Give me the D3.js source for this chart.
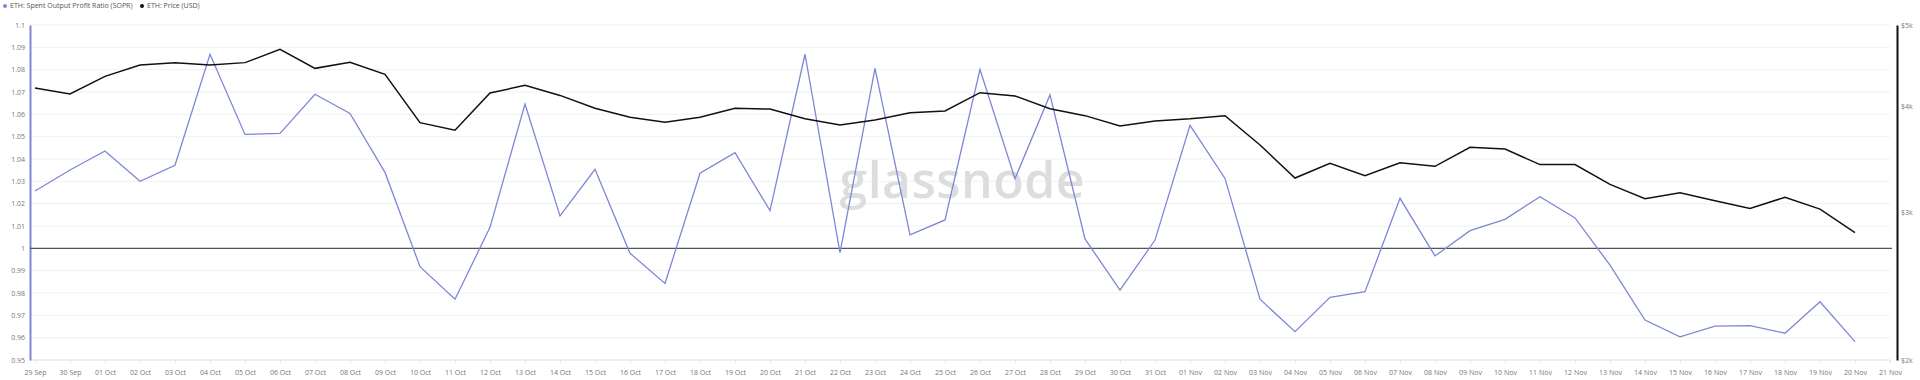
<!DOCTYPE html>
<meta charset="utf-8">
<html lang="en">
    <head>
        <script src="https://d3js.org/d3.v7.min.js"></script>
        <title>ETH SOPR vs Price</title>
        <style>
            body { margin: 0; background: #fff; }
            text { font-family: "Open Sans", "Noto Sans", sans-serif; }
        </style>
    </head>
    <body>
        <div id="my_graph"></div>
    </body>
</html>
<script>
// daily dates, 29 Sep -> 20 Nov
const dates = ["2025-09-29","2025-09-30","2025-10-01","2025-10-02","2025-10-03","2025-10-04","2025-10-05",
    "2025-10-06","2025-10-07","2025-10-08","2025-10-09","2025-10-10","2025-10-11","2025-10-12","2025-10-13",
    "2025-10-14","2025-10-15","2025-10-16","2025-10-17","2025-10-18","2025-10-19","2025-10-20","2025-10-21",
    "2025-10-22","2025-10-23","2025-10-24","2025-10-25","2025-10-26","2025-10-27","2025-10-28","2025-10-29",
    "2025-10-30","2025-10-31","2025-11-01","2025-11-02","2025-11-03","2025-11-04","2025-11-05","2025-11-06",
    "2025-11-07","2025-11-08","2025-11-09","2025-11-10","2025-11-11","2025-11-12","2025-11-13","2025-11-14",
    "2025-11-15","2025-11-16","2025-11-17","2025-11-18","2025-11-19","2025-11-20"]

const sopr = [1.0257,1.0351,1.0436,1.0300,1.0372,1.0869,1.0510,1.0515,1.0690,1.0604,1.0340,
    0.9918,0.9772,1.0094,1.0646,1.0145,1.0354,0.9978,0.9843,1.0336,1.0428,1.0169,
    1.0869,0.9981,1.0806,1.0060,1.0127,1.0801,1.0312,1.0687,1.0042,0.9813,1.0037,
    1.0551,1.0313,0.9772,0.9627,0.9781,0.9806,1.0224,0.9966,1.0079,1.0130,1.0231,
    1.0136,0.9925,0.9679,0.9604,0.9652,0.9654,0.9620,0.9761,0.9582]

const price = [4209,4140,4345,4482,4511,4482,4511,4677,4441,4515,4369,
    3828,3749,4151,4239,4124,3981,3884,3831,3884,3981,3973,
    3869,3804,3855,3934,3952,4155,4118,3977,3902,3793,3846,
    3869,3902,3601,3290,3425,3311,3431,3397,3578,3562,3413,
    3413,3233,3109,3161,3092,3028,3121,3022,2834]

const soprTicks = d3.range(0, 16).map(i => +(0.95 + i * 0.01).toFixed(2))
const priceTicks = [2000, 3000, 4000, 5000]

const soprColour = "#7e87d6"
const priceColour = "#111"

const W = 1920, H = 380
const margin = {top: 25, right: 23, bottom: 20, left: 30}

const parse = d3.utcParse("%Y-%m-%d")
const data = dates.map((d, i) => ({date: parse(d), sopr: sopr[i], price: price[i]}))

const svg = d3.select("#my_graph").append("svg")
    .attr("width", W)
    .attr("height", H)

// scales
const x = d3.scaleUtc()
    .domain([parse("2025-09-29"), parse("2025-11-21")])
    .range([35, 1890])
const y = d3.scaleLinear().domain([0.95, 1.1]).range([H - margin.bottom, margin.top])
const yP = d3.scaleLog().domain([2000, 5000]).range([H - margin.bottom, margin.top])

// horizontal grid
svg.append("g")
    .selectAll("line").data(soprTicks).join("line")
    .attr("x1", margin.left).attr("x2", 1890)
    .attr("y1", d => y(d)).attr("y2", d => y(d))
    .attr("stroke", "#f1f1f1")

// watermark
svg.append("text")
    .attr("x", 962).attr("y", 198)
    .attr("text-anchor", "middle")
    .attr("font-family", "Inter, 'Noto Sans', sans-serif")
    .attr("font-size", 50)
    .attr("font-weight", 600)
    .attr("textLength", 245)
    .attr("fill", "#dddddd")
    .text("glassnode")

// x axis
const xAxis = svg.append("g")
    .attr("transform", `translate(0,${H - margin.bottom})`)
    .call(d3.axisBottom(x).ticks(d3.utcDay.every(1)).tickFormat(d3.utcFormat("%d %b")).tickSizeOuter(0).tickSize(3))
xAxis.select(".domain").attr("stroke", "#e4e4e4").attr("d", `M${margin.left},0H1890`)
xAxis.selectAll(".tick line").attr("stroke", "#e4e4e4")
xAxis.selectAll(".tick text").attr("fill", "#777").attr("font-size", 7).attr("dy", "1.25em")

// left axis
const yAxis = svg.append("g")
    .attr("transform", `translate(${margin.left},0)`)
    .call(d3.axisLeft(y).tickValues(soprTicks).tickFormat(d => String(d)).tickSize(0).tickPadding(5))
yAxis.select(".domain").attr("stroke", soprColour).attr("stroke-width", 2)
yAxis.selectAll(".tick text").attr("fill", "#777").attr("font-size", 7)

// right axis
const yAxisR = svg.append("g")
    .attr("transform", `translate(${W - margin.right},0)`)
    .call(d3.axisRight(yP).tickValues(priceTicks).tickFormat(d => "$" + d / 1000 + "k").tickSize(0).tickPadding(4))
yAxisR.select(".domain").attr("stroke", priceColour).attr("stroke-width", 2)
yAxisR.selectAll(".tick text").attr("fill", "#777").attr("font-size", 7)

// reference line at 1
svg.append("line")
    .attr("x1", margin.left).attr("x2", 1892)
    .attr("y1", y(1)).attr("y2", y(1))
    .attr("stroke", "#555").attr("stroke-width", 1.2)

// lines
svg.append("path").datum(data)
    .attr("fill", "none")
    .attr("stroke", soprColour)
    .attr("stroke-width", 1.3)
    .attr("d", d3.line().x(d => x(d.date)).y(d => y(d.sopr)))

svg.append("path").datum(data)
    .attr("fill", "none")
    .attr("stroke", priceColour)
    .attr("stroke-width", 1.5)
    .attr("d", d3.line().x(d => x(d.date)).y(d => yP(d.price)))

// legend
const legend = [
    {label: "ETH: Spent Output Profit Ratio (SOPR)", colour: soprColour, x: 5},
    {label: "ETH: Price (USD)", colour: priceColour, x: 142}
]
const lg = svg.append("g").selectAll("g").data(legend).join("g")
    .attr("transform", d => `translate(${d.x},6)`)
lg.append("circle").attr("r", 2).attr("fill", d => d.colour)
lg.append("text").attr("x", 5).attr("dy", "0.35em")
    .attr("font-size", 7).attr("fill", "#555")
    .text(d => d.label)
</script>
